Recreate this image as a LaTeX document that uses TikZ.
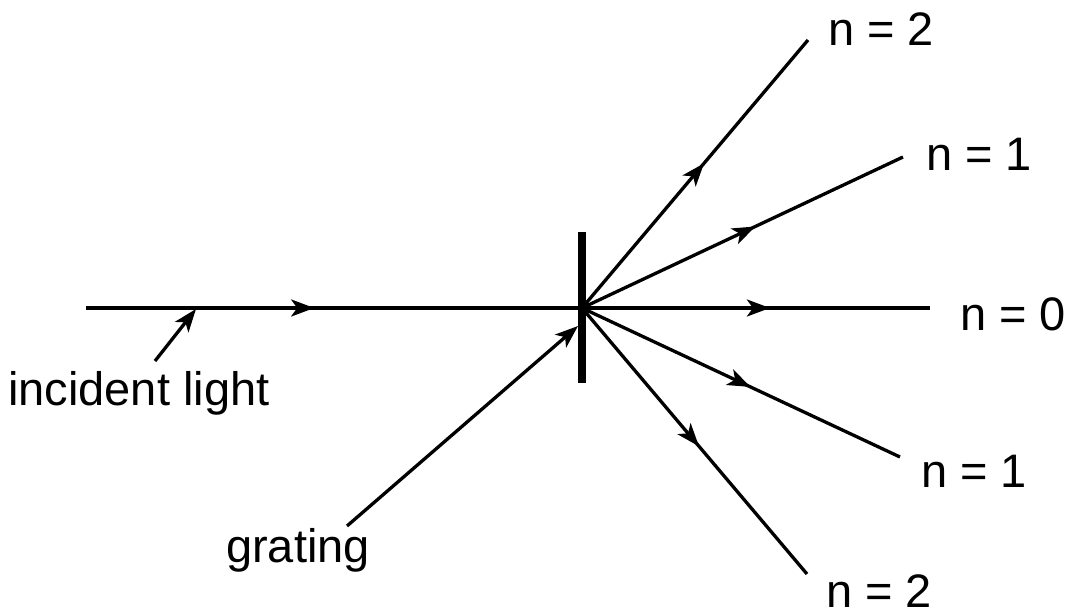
\documentclass[tikz,border=0pt]{standalone}
\usepackage{fontspec}
\setmainfont{Liberation Sans}
\usetikzlibrary{arrows.meta,decorations.markings}
\tikzset{
  ray/.style={line width=3.3pt, postaction={decorate}, decoration={markings, mark=at position #1 with {\arrow{Stealth[length=23pt,width=17pt,inset=6pt]}}}},
  pointer/.style={line width=3.3pt, -{Stealth[length=23pt,width=17pt,inset=6pt]}},
  lbl/.style={font=\fontsize{47}{50}\selectfont, inner sep=0pt, anchor=base west}
}
\begin{document}
\begin{tikzpicture}[x=1pt,y=-1pt]
\useasboundingbox (0,0) rectangle (1072,616);
% centre of grating
\coordinate (O) at (582,308);
\coordinate (src) at (86,308);
\coordinate (e2u) at (808,40);
\coordinate (e1u) at (903,157);
\coordinate (e0) at (930,308);
\coordinate (e1d) at (900,457);
\coordinate (e2d) at (807,574);
\coordinate (gtop) at (582,232);
\coordinate (gbot) at (582,383);
% grating
\draw[line width=8pt] (gtop) -- (gbot);
% rays
\draw[ray=0.46] (src) -- (O);
\draw[ray=0.54] (O) -- (e2u);
\draw[ray=0.54] (O) -- (e1u);
\draw[ray=0.54] (O) -- (e0);
\draw[ray=0.53] (O) -- (e1d);
\draw[ray=0.52] (O) -- (e2d);
% labels
\node[lbl] (l2u) at (828,45) {n = 2};
\node[lbl] (l1u) at (926,170) {n = 1};
\node[lbl] (l0) at (960,330) {n = 0};
\node[lbl] (l1d) at (921,487) {n = 1};
\node[lbl] (l2d) at (826,607) {n = 2};
\node[lbl] (inc) at (8,405) {incident light};
\node[lbl] (grt) at (226,562) {grating};
% pointers
\coordinate (incTail) at (155,361);
\coordinate (incTip) at (196,309);
\coordinate (grtTail) at (347,526);
\coordinate (grtTip) at (578,326);
\draw[pointer] (incTail) -- (incTip);
\draw[pointer] (grtTail) -- (grtTip);
\end{tikzpicture}
\end{document}
